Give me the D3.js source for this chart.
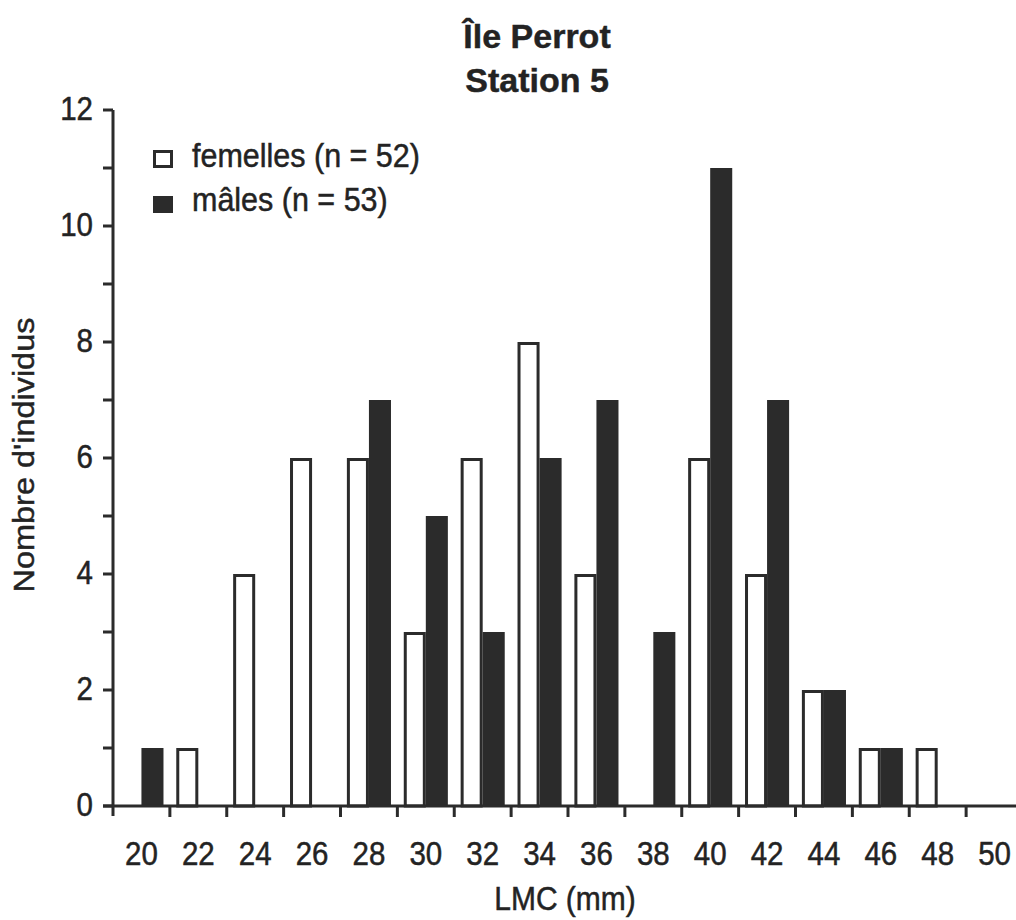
<!DOCTYPE html>
<html>
<head>
<meta charset="utf-8">
<script src="https://cdn.jsdelivr.net/npm/d3@7/dist/d3.min.js"></script>
<style>
  html, body { margin: 0; padding: 0; background: #fff; }
  svg { display: block; }
  text { font-family: "Liberation Sans", Arial, sans-serif; fill: #232323; stroke: #232323; stroke-width: 0.45px; }
</style>
</head>
<body>
<svg id="chart" width="1016" height="920"></svg>
<script>
// Size classes (LMC, mm)
const classes = [20, 22, 24, 26, 28, 30, 32, 34, 36, 38, 40, 42, 44, 46, 48, 50];
// Number of individuals per size class
const femelles = [0, 1, 4, 6, 6, 3, 6, 8, 4, 0, 6, 4, 2, 1, 1, 0];
const males    = [1, 0, 0, 0, 7, 5, 3, 6, 7, 3, 11, 7, 2, 1, 0, 0];
const yTicks = [0, 2, 4, 6, 8, 10, 12];
const yMinorTicks = d3.range(0, 13);
const seriesNames = ["femelles (n = 52)", "mâles (n = 53)"];
const titleLines = ["Île Perrot", "Station 5"];

const ink = "#2b2b2b";
const svg = d3.select("#chart");

const plotLeft = 113, plotRight = 1023, plotTop = 110, plotBottom = 806;
const stretch = 1.1;   // body text is drawn slightly tall

const x = d3.scaleBand().domain(classes).range([plotLeft, plotRight]).padding(0);
const sub = d3.scaleBand().domain(["f", "m"]).range([0, x.bandwidth()])
  .paddingInner(0).paddingOuter(0.29);
const y = d3.scaleLinear().domain([0, 12]).range([plotBottom, plotTop]);

function label(g, txt, px, py, opts = {}) {
  const sy = opts.sy || stretch;
  const t = g.append("text")
    .attr("transform", `translate(${px},${py}) scale(1,${sy})` + (opts.rotate ? ` rotate(${opts.rotate})` : ""))
    .attr("text-anchor", opts.anchor || "middle")
    .style("font-size", (opts.size || 29.5) + "px")
    .text(txt);
  if (opts.bold) t.style("font-weight", "bold");
  return t;
}

const rows = classes.map((c, i) => ({ c, f: femelles[i], m: males[i] }));

// Bars: females (open) then males (filled)
const bars = svg.append("g");
rows.forEach(r => {
  if (r.f > 0) {
    bars.append("rect")
      .attr("x", x(r.c) + sub("f") + 1.5)
      .attr("y", y(r.f) + 1.5)
      .attr("width", sub.bandwidth() - 3)
      .attr("height", y(0) - y(r.f) - 1.5)
      .attr("fill", "#fff")
      .attr("stroke", ink)
      .attr("stroke-width", 3);
  }
  if (r.m > 0) {
    bars.append("rect")
      .attr("x", x(r.c) + sub("m"))
      .attr("y", y(r.m))
      .attr("width", sub.bandwidth())
      .attr("height", y(0) - y(r.m))
      .attr("fill", ink);
  }
});

// Axes
const axes = svg.append("g").attr("stroke", ink).attr("stroke-width", 3);
axes.append("line").attr("x1", plotLeft - 10).attr("x2", 1016).attr("y1", plotBottom).attr("y2", plotBottom);
axes.append("line").attr("x1", plotLeft).attr("x2", plotLeft).attr("y1", plotTop).attr("y2", plotBottom + 10);
// x ticks at class boundaries
classes.slice(1).forEach(c => {
  axes.append("line").attr("x1", x(c)).attr("x2", x(c)).attr("y1", plotBottom).attr("y2", plotBottom + 11);
});
// y ticks at each unit
yMinorTicks.forEach(v => {
  axes.append("line").attr("x1", plotLeft - 10).attr("x2", plotLeft).attr("y1", y(v)).attr("y2", y(v));
});

const labels = svg.append("g");
classes.forEach(c => label(labels, c, x(c) + x.bandwidth() / 2, 865));
yTicks.forEach(v => label(labels, v, 93, y(v) + 10, { anchor: "end" }));

label(labels, "LMC (mm)", 565, 910, { size: 30 });
label(labels, "Nombre d'individus", 34, 455, { rotate: -90, size: 29.5 });

label(labels, titleLines[0], 537, 48, { bold: true, size: 34, sy: 1 });
label(labels, titleLines[1], 537, 92, { bold: true, size: 34, sy: 1 });

// Legend
const legend = svg.append("g");
legend.append("rect").attr("x", 154.5).attr("y", 151.5).attr("width", 17).attr("height", 15)
  .attr("fill", "#fff").attr("stroke", ink).attr("stroke-width", 3);
legend.append("rect").attr("x", 153).attr("y", 196).attr("width", 20).attr("height", 17)
  .attr("fill", ink);
label(legend, seriesNames[0], 192, 167, { anchor: "start", size: 30.5 });
label(legend, seriesNames[1], 192, 211, { anchor: "start", size: 30.5 });
</script>
</body>
</html>
